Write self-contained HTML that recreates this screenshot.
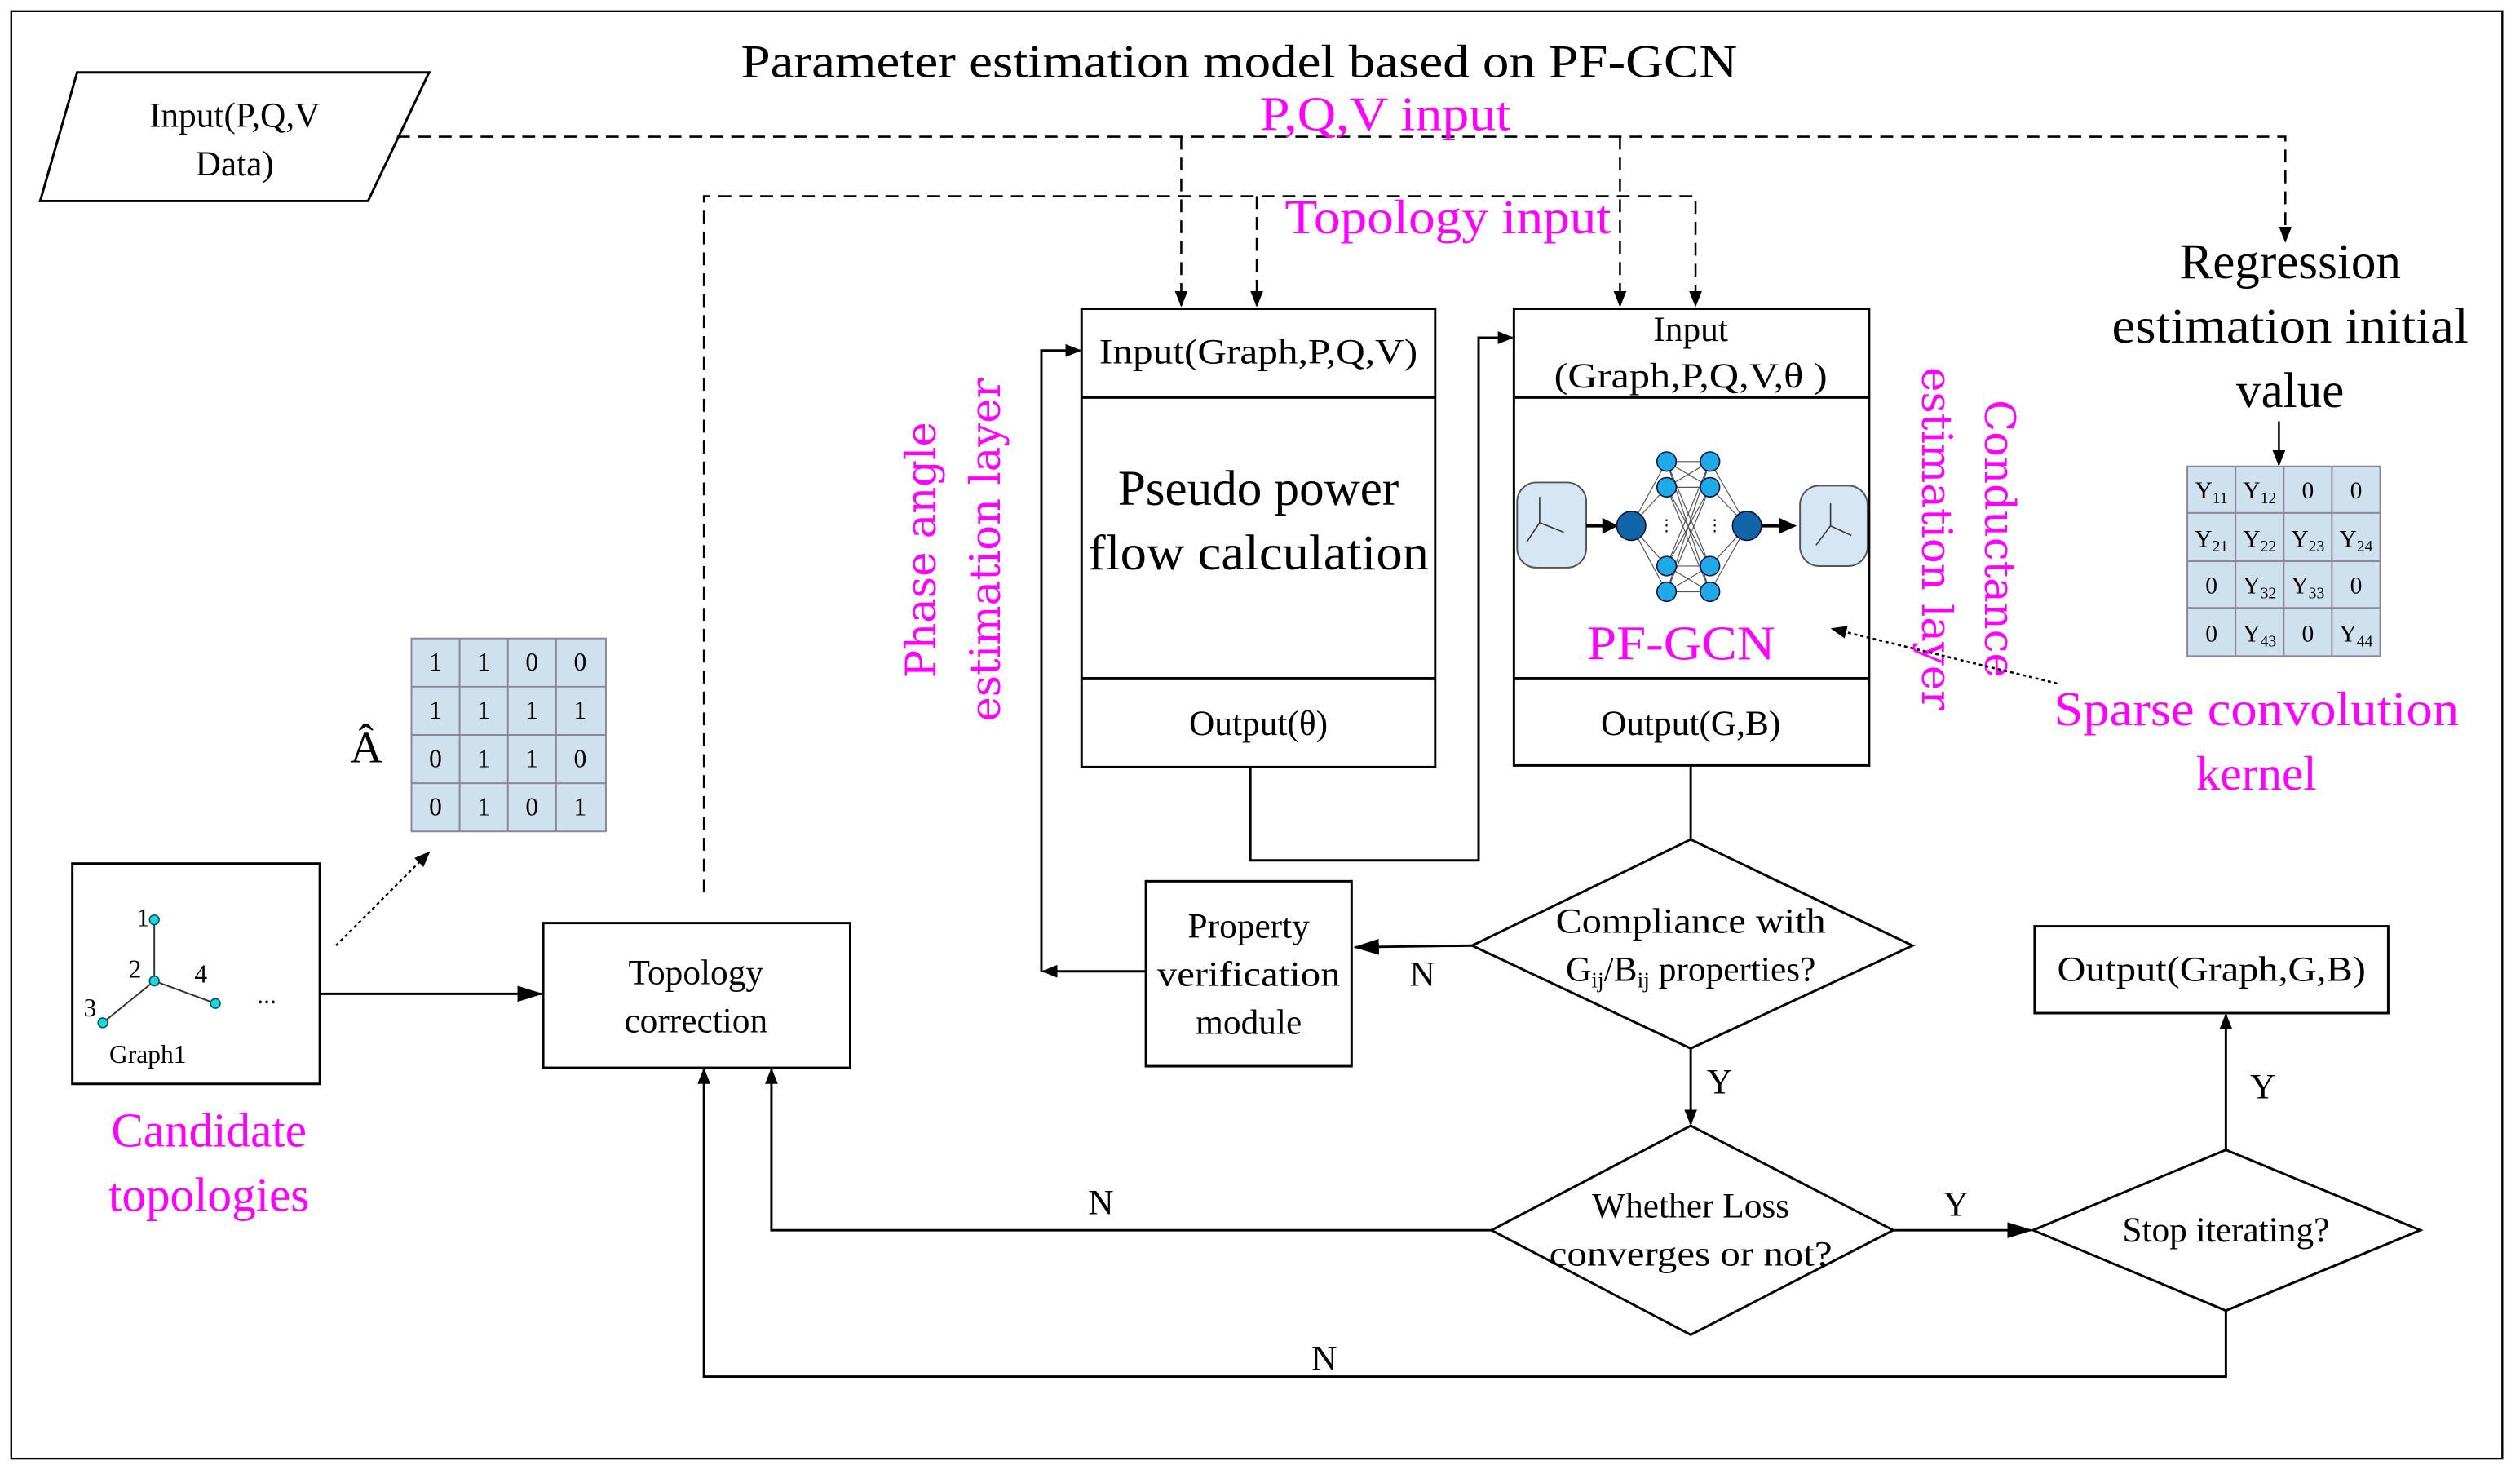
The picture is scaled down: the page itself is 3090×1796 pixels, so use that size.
<!DOCTYPE html>
<html><head><meta charset="utf-8"><style>html,body{margin:0;padding:0;background:#fff}svg{display:block}</style></head>
<body>
<svg width="3090" height="1796" viewBox="0 0 1568 911" preserveAspectRatio="none" xmlns="http://www.w3.org/2000/svg" font-family="'Liberation Serif', serif">
<defs>
<marker id="a" markerWidth="10" markerHeight="8" refX="9" refY="4" orient="auto" markerUnits="userSpaceOnUse"><path d="M0,0 L10,4 L0,8 z" fill="#000"/></marker>
<marker id="as" markerWidth="16" markerHeight="10" refX="15" refY="5" orient="auto" markerUnits="userSpaceOnUse"><path d="M0,0 L16,5 L0,10 z" fill="#000"/></marker>
</defs>
<rect x="7" y="7" width="1550" height="900" fill="#fff" stroke="#000" stroke-width="1.2"/>
<g fill="#000" text-anchor="middle">
<text x="771" y="48" font-size="29" textLength="620" lengthAdjust="spacingAndGlyphs">Parameter estimation model based on PF-GCN</text>
</g>
<polygon points="48,45 267,45 229,125 25,125" fill="#fff" stroke="#000" stroke-width="1.5"/>
<g font-size="22" text-anchor="middle"><text x="146" y="79">Input(P,Q,V</text><text x="146" y="109">Data)</text></g>

<g fill="none" stroke="#000" stroke-width="1.3" stroke-dasharray="8,5">
<path d="M247,85 H1422 V150" marker-end="url(#a)"/>
<path d="M735,85 V190" marker-end="url(#a)"/>
<path d="M1008,85 V190" marker-end="url(#a)"/>
<path d="M438,555 V122 H1055 V190" marker-end="url(#a)"/>
<path d="M782,122 V190" marker-end="url(#a)"/>
</g>
<g fill="#ff00ff" font-size="30" text-anchor="middle">
<text x="862" y="81" textLength="156" lengthAdjust="spacingAndGlyphs">P,Q,V input</text>
<text x="901" y="145" textLength="203" lengthAdjust="spacingAndGlyphs">Topology input</text>
<text x="1046" y="410" textLength="117" lengthAdjust="spacingAndGlyphs">PF-GCN</text>
<text x="1404" y="451" textLength="252" lengthAdjust="spacingAndGlyphs">Sparse convolution</text>
<text x="1404" y="491">kernel</text>
<text x="130" y="713">Candidate</text>
<text x="130" y="753">topologies</text>
<text transform="translate(582,342) rotate(-90)" font-family="'DejaVu Serif',serif" font-size="26">Phase angle</text>
<text transform="translate(622,342) rotate(-90)" font-family="'DejaVu Serif',serif" font-size="26">estimation layer</text>
<text transform="translate(1235,335) rotate(90)" font-family="'DejaVu Serif',serif" font-size="26">Conductance</text>
<text transform="translate(1196,335) rotate(90)" font-family="'DejaVu Serif',serif" font-size="26">estimation layer</text>
</g>

<g fill="none" stroke="#000" stroke-width="1.5">
<rect x="673" y="192" width="220" height="285"/><line x1="673" y1="247" x2="893" y2="247" stroke-width="2"/><line x1="673" y1="422" x2="893" y2="422" stroke-width="2"/>
<rect x="942" y="192" width="221" height="284"/><line x1="942" y1="247" x2="1163" y2="247" stroke-width="2"/><line x1="942" y1="422" x2="1163" y2="422" stroke-width="2"/>
</g>
<g font-size="22" text-anchor="middle">
<text x="783" y="226" textLength="198" lengthAdjust="spacingAndGlyphs">Input(Graph,P,Q,V)</text>
<text x="783" y="314" font-size="31">Pseudo power</text>
<text x="783" y="354" font-size="31" textLength="212" lengthAdjust="spacingAndGlyphs">flow calculation</text>
<text x="783" y="457">Output(θ)</text>
<text x="1052" y="212">Input</text>
<text x="1052" y="241" textLength="170" lengthAdjust="spacingAndGlyphs">(Graph,P,Q,V,θ )</text>
<text x="1052" y="457">Output(G,B)</text>
<text x="1425" y="173" font-size="31">Regression</text>
<text x="1425" y="213" font-size="31" textLength="222" lengthAdjust="spacingAndGlyphs">estimation initial</text>
<text x="1425" y="253" font-size="31">value</text>
</g>
<!-- NN -->
<g stroke="#555" stroke-width="0.6">
<path d="M1015,327 L1037,287 M1015,327 L1037,303 M1015,327 L1037,352 M1015,327 L1037,368 M1087,327 L1064,287 M1087,327 L1064,303 M1087,327 L1064,352 M1087,327 L1064,368"/>
<path d="M1037,287 L1064,287 M1037,303 L1064,303 M1037,287 L1064,303 M1037,303 L1064,287 M1037,287 L1064,352 M1037,287 L1064,368 M1037,303 L1064,352 M1037,303 L1064,368 M1037,352 L1064,287 M1037,352 L1064,303 M1037,368 L1064,287 M1037,368 L1064,303 M1037,352 L1064,352 M1037,368 L1064,368 M1037,352 L1064,368 M1037,368 L1064,352"/>
</g>
<g fill="#d6e6f4" stroke="#555" stroke-width="1"><rect x="944" y="300" width="43" height="53" rx="12"/><rect x="1120" y="302" width="42" height="50" rx="12"/></g>
<g stroke="#333" stroke-width="0.8" fill="none"><path d="M958,325 V309 M958,325 L950,337 M958,325 L973,331"/><path d="M1139,327 V313 M1139,327 L1130,339 M1139,327 L1152,333"/></g>
<g stroke="#000" stroke-width="2"><line x1="987" y1="327" x2="998" y2="327"/><line x1="1096" y1="327" x2="1108" y2="327"/></g>
<g fill="#000"><path d="M997,322 L1007,327 L997,332 z"/><path d="M1107,322 L1118,327 L1107,332 z"/></g>
<g fill="#1eaae6" stroke="#114" stroke-width="0.8"><circle cx="1037" cy="287" r="6"/><circle cx="1037" cy="303" r="6"/><circle cx="1037" cy="352" r="6"/><circle cx="1037" cy="368" r="6"/><circle cx="1064" cy="287" r="6"/><circle cx="1064" cy="303" r="6"/><circle cx="1064" cy="352" r="6"/><circle cx="1064" cy="368" r="6"/></g>
<g fill="#1064a8" stroke="#113" stroke-width="0.8"><circle cx="1015" cy="327" r="9"/><circle cx="1087" cy="327" r="9"/></g>
<text x="1032" y="330" font-size="10">⋮</text><text x="1062" y="330" font-size="10">⋮</text>

<!-- Y matrix -->
<g>
<rect x="1361" y="290" width="120" height="118" fill="#cfe0ef" stroke="#889" stroke-width="1"/>
<g stroke="#889" stroke-width="1"><line x1="1391" y1="290" x2="1391" y2="408"/><line x1="1421" y1="290" x2="1421" y2="408"/><line x1="1451" y1="290" x2="1451" y2="408"/><line x1="1361" y1="319" x2="1481" y2="319"/><line x1="1361" y1="349" x2="1481" y2="349"/><line x1="1361" y1="378" x2="1481" y2="378"/></g>
<g font-size="15" text-anchor="middle">
<text x="1376" y="310">Y<tspan font-size="10" dy="3">11</tspan></text><text x="1406" y="310">Y<tspan font-size="10" dy="3">12</tspan></text><text x="1436" y="310">0</text><text x="1466" y="310">0</text>
<text x="1376" y="340">Y<tspan font-size="10" dy="3">21</tspan></text><text x="1406" y="340">Y<tspan font-size="10" dy="3">22</tspan></text><text x="1436" y="340">Y<tspan font-size="10" dy="3">23</tspan></text><text x="1466" y="340">Y<tspan font-size="10" dy="3">24</tspan></text>
<text x="1376" y="369">0</text><text x="1406" y="369">Y<tspan font-size="10" dy="3">32</tspan></text><text x="1436" y="369">Y<tspan font-size="10" dy="3">33</tspan></text><text x="1466" y="369">0</text>
<text x="1376" y="399">0</text><text x="1406" y="399">Y<tspan font-size="10" dy="3">43</tspan></text><text x="1436" y="399">0</text><text x="1466" y="399">Y<tspan font-size="10" dy="3">44</tspan></text>
</g></g>
<line x1="1418" y1="262" x2="1418" y2="289" stroke="#000" stroke-width="1.3" marker-end="url(#a)"/>
<line x1="1280" y1="425" x2="1140" y2="391" stroke="#000" stroke-width="1.3" stroke-dasharray="2,2" marker-end="url(#a)"/>

<!-- A matrix -->
<rect x="256" y="397" width="121" height="120" fill="#cfe0ef" stroke="#889"/>
<g stroke="#889"><line x1="286" y1="397" x2="286" y2="517"/><line x1="316" y1="397" x2="316" y2="517"/><line x1="346" y1="397" x2="346" y2="517"/><line x1="256" y1="427" x2="377" y2="427"/><line x1="256" y1="457" x2="377" y2="457"/><line x1="256" y1="487" x2="377" y2="487"/></g>
<g font-size="16" text-anchor="middle">
<text x="271" y="417">1</text><text x="301" y="417">1</text><text x="331" y="417">0</text><text x="361" y="417">0</text>
<text x="271" y="447">1</text><text x="301" y="447">1</text><text x="331" y="447">1</text><text x="361" y="447">1</text>
<text x="271" y="477">0</text><text x="301" y="477">1</text><text x="331" y="477">1</text><text x="361" y="477">0</text>
<text x="271" y="507">0</text><text x="301" y="507">1</text><text x="331" y="507">0</text><text x="361" y="507">1</text>
<text x="228" y="474" font-size="28">Â</text>
</g>
<line x1="209" y1="588" x2="267" y2="530" stroke="#000" stroke-width="1.2" stroke-dasharray="2,2" marker-end="url(#a)"/>

<!-- Graph1 -->
<rect x="45" y="537" width="154" height="137" fill="#fff" stroke="#000" stroke-width="1.5"/>
<g stroke="#333" stroke-width="1"><line x1="96" y1="572" x2="96" y2="610"/><line x1="96" y1="610" x2="134" y2="624"/><line x1="96" y1="610" x2="64" y2="636"/></g>
<g fill="#1fd6e0" stroke="#055" stroke-width="0.8"><circle cx="96" cy="572" r="3"/><circle cx="96" cy="610" r="3"/><circle cx="134" cy="624" r="3"/><circle cx="64" cy="636" r="3"/></g>
<g font-size="16"><text x="85" y="576">1</text><text x="80" y="608">2</text><text x="121" y="611">4</text><text x="52" y="632">3</text><text x="160" y="624">...</text><text x="68" y="661">Graph1</text></g>

<g fill="#fff" stroke="#000" stroke-width="1.5">
<rect x="338" y="574" width="191" height="90"/>
<rect x="713" y="548" width="128" height="115"/>
<rect x="1266" y="576" width="220" height="54"/>
<polygon points="916,588 1052,522 1190,588 1052,652"/>
<polygon points="928,765 1052,700 1178,765 1052,830"/>
<polygon points="1265,765 1385,715 1506,765 1385,815"/>
</g>
<g font-size="22" text-anchor="middle">
<text x="433" y="612">Topology</text><text x="433" y="642">correction</text>
<text x="777" y="583">Property</text><text x="777" y="613" textLength="114" lengthAdjust="spacingAndGlyphs">verification</text><text x="777" y="643">module</text>
<text x="1376" y="610" textLength="192" lengthAdjust="spacingAndGlyphs">Output(Graph,G,B)</text>
<text x="1052" y="580" textLength="168" lengthAdjust="spacingAndGlyphs">Compliance with</text>
<text x="1052" y="610">G<tspan font-size="14" dy="4">ij</tspan><tspan dy="-4">/B</tspan><tspan font-size="14" dy="4">ij</tspan><tspan dy="-4"> properties?</tspan></text>
<text x="1052" y="757">Whether Loss</text><text x="1052" y="787" textLength="176" lengthAdjust="spacingAndGlyphs">converges or not?</text>
<text x="1385" y="772">Stop iterating?</text>
<text x="885" y="613">N</text><text x="1070" y="680">Y</text><text x="1217" y="756">Y</text><text x="1408" y="683">Y</text><text x="685" y="755">N</text><text x="824" y="852">N</text>
</g>

<g fill="none" stroke="#000" stroke-width="1.5">
<line x1="199" y1="618" x2="337" y2="618" marker-end="url(#as)"/>
<path d="M778,477 V535 H920 V210 H941" marker-end="url(#a)"/>
<line x1="713" y1="604" x2="649" y2="604" marker-end="url(#a)"/>
<path d="M648,604 V218 H672" marker-end="url(#a)"/>
<line x1="1052" y1="476" x2="1052" y2="522"/>
<line x1="916" y1="588" x2="843" y2="589" marker-end="url(#as)"/>
<line x1="1052" y1="652" x2="1052" y2="699" marker-end="url(#a)"/>
<line x1="1178" y1="765" x2="1264" y2="765" marker-end="url(#as)"/>
<line x1="1385" y1="715" x2="1385" y2="631" marker-end="url(#a)"/>
<path d="M928,765 H480 V665" marker-end="url(#a)"/>
<path d="M1385,815 V856 H438 V665" marker-end="url(#a)"/>
</g>
</svg>
</body></html>
